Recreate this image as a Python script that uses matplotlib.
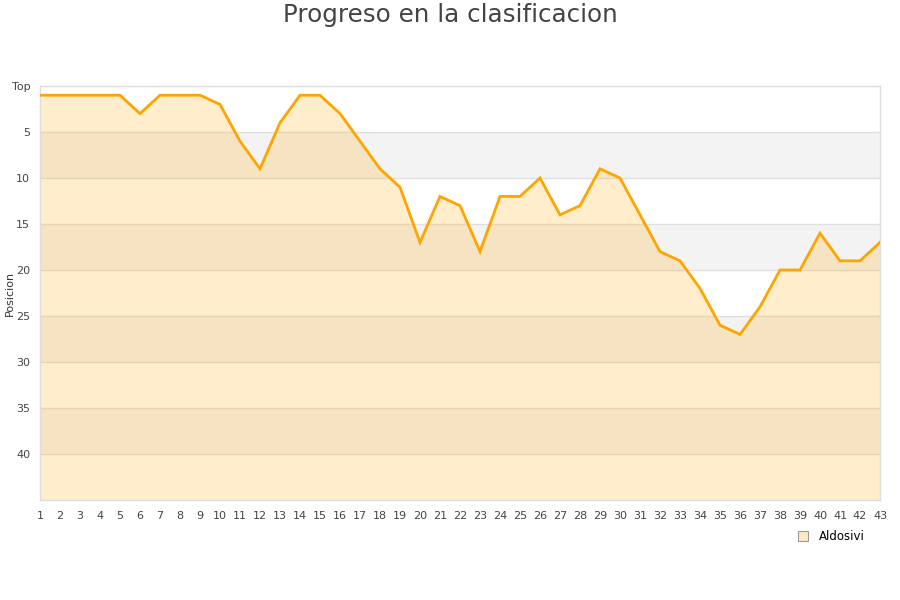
import matplotlib
matplotlib.use("Agg")
import matplotlib.pyplot as plt
from matplotlib.lines import Line2D

jornadas = list(range(1, 44))
posiciones = [1, 1, 1, 1, 1, 3, 1, 1, 1, 2, 6, 9, 4, 1, 1, 3, 6, 9, 11, 17,
              12, 13, 18, 12, 12, 10, 14, 13, 9, 10, 14, 18, 19, 22, 26, 27, 24, 20, 20, 16,
              19, 19, 17]
ytick_vals = [0, 5, 10, 15, 20, 25, 30, 35, 40]
ytick_labels = ["Top", "5", "10", "15", "20", "25", "30", "35", "40"]
equipo = "Aldosivi"
titulo = "Progreso en la clasificacion"

fig = plt.figure(figsize=(9, 6), dpi=100)
ax = fig.add_axes([40/900, 1-500/600, 840/900, 414/600])

ymax = 45
# alternating bands
for i, lo in enumerate(range(0, ymax, 5)):
    if i % 2 == 1:
        ax.axhspan(lo, lo+5, color="#f3f3f3", zorder=0, lw=0)
for v in ytick_vals[1:]:
    ax.axhline(v, color="#e0e0e0", lw=1, zorder=1)

ax.fill_between(jornadas, posiciones, ymax, color="#FFA500", alpha=0.2, lw=0, zorder=2)
ax.plot(jornadas, posiciones, color="#FFA500", lw=2, zorder=3, solid_joinstyle="miter")

ax.set_xlim(1, 43)
ax.set_ylim(ymax, 0)
ax.set_xticks(jornadas)
ax.set_xticklabels([str(j) for j in jornadas])
ax.set_yticks(ytick_vals)
ax.set_yticklabels(ytick_labels)
ax.tick_params(axis="both", length=0, labelsize=8, colors="#444444")
ax.tick_params(axis="x", pad=8)
ax.tick_params(axis="y", pad=7)
for s in ax.spines.values():
    s.set_color("#dddddd")
    s.set_linewidth(1)
ax.set_ylabel("Posicion", fontsize=8, color="#333333")
ax.yaxis.set_label_coords(-25/840, 0.5)
fig.text(0.5, 1-15/600, titulo, ha="center", va="center", fontsize=17.7, color="#444444")

handle = Line2D([], [], marker="s", ls="none", markersize=7,
                markerfacecolor="#FFE9C4", markeredgecolor="#999999", markeredgewidth=0.8)
fig.legend([handle], [equipo], loc="center", bbox_to_anchor=(831/900, 1-537/600),
           frameon=False, fontsize=8.5, handletextpad=0.9, handlelength=1)

fig.savefig("out.png", dpi=100)
